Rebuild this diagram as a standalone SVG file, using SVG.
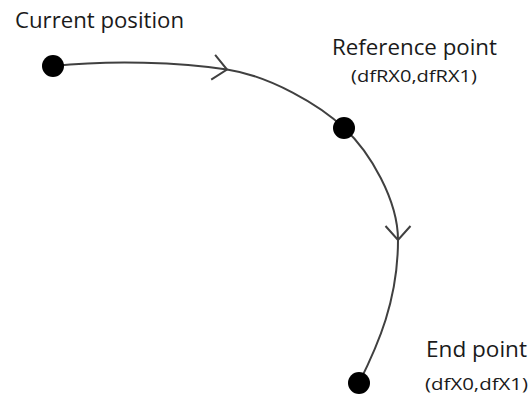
<svg xmlns="http://www.w3.org/2000/svg" width="529" height="394" viewBox="0 0 529 394">
<defs>
<style>
.t{font-family:"Open Sans","Liberation Sans",sans-serif;fill:#1a1a1a;}
.big{font-size:21px;}
.small{font-size:17px;}
.arc{fill:none;stroke:#404040;stroke-width:2;}
.dot{fill:#000;}
</style>
<marker id="chev" markerUnits="userSpaceOnUse" markerWidth="30" markerHeight="30" refX="0" refY="0" orient="auto" overflow="visible" viewBox="-20 -15 25 30">
<path d="M-14,-12.5 L0,0 L-14,12.5" fill="none" stroke="#404040" stroke-width="2"/>
</marker>
</defs>
<g id="connectors">
<path class="arc" d="M53,66 C110,60 180,62 227,69.5" marker-end="url(#chev)"/>
<path class="arc" d="M227,69.5 C270,76 320,105 344,128 C370,152 398,200 398,240" marker-end="url(#chev)"/>
<path class="arc" d="M398,240 C398,300 378,345 359,383"/>
</g>
<g id="current">
<circle class="dot" cx="53" cy="66" r="11"/>
<text class="t big" x="15" y="28" textLength="169" lengthAdjust="spacingAndGlyphs">Current position</text>
</g>
<g id="reference">
<circle class="dot" cx="344" cy="128" r="11"/>
<text class="t big" x="332" y="55" textLength="165" lengthAdjust="spacingAndGlyphs">Reference point</text>
<text class="t small" x="351" y="82" textLength="126" lengthAdjust="spacingAndGlyphs">(dfRX0,dfRX1)</text>
</g>
<g id="end">
<circle class="dot" cx="359" cy="383" r="11"/>
<text class="t big" x="426" y="357" textLength="101" lengthAdjust="spacingAndGlyphs">End point</text>
<text class="t small" x="425" y="390" textLength="103" lengthAdjust="spacingAndGlyphs">(dfX0,dfX1)</text>
</g>
</svg>
